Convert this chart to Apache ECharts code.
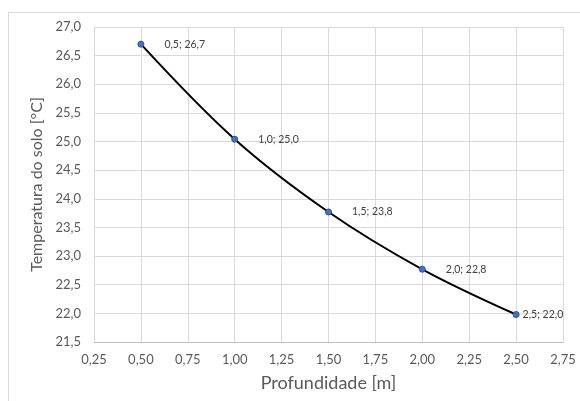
<!DOCTYPE html>
<html><head><meta charset="utf-8">
<script src="https://cdn.jsdelivr.net/npm/echarts@6/dist/echarts.min.js"></script>
<style>html,body{margin:0;padding:0;background:#fff}#c{width:580px;height:401px}</style>
</head><body><div id="c"></div>
<script>
const depths = [0.5, 1.0, 1.5, 2.0, 2.5];
const temps = [26.7, 25.04, 23.77, 22.77, 21.98];
const xTitle = 'Profundidade [m]';
const yTitle = 'Temperatura do solo [°C]';
const fmt = (v, d) => v.toFixed(d).replace('.', ',');
const font = 'Lato';
const chart = echarts.init(document.getElementById('c'), null, {renderer: 'canvas'});
chart.setOption({
  animation: false,
  backgroundColor: '#fff',
  graphic: [{type: 'rect', shape: {x: 8.5, y: 12.5, width: 600, height: 400}, style: {fill: 'none', stroke: '#d9d9d9', lineWidth: 1}, silent: true}],
  grid: {left: 94, right: 17, top: 27, bottom: 59},
  xAxis: {
    type: 'value', min: 0.25, max: 2.75, interval: 0.25,
    name: xTitle, nameLocation: 'middle', nameGap: 32,
    nameTextStyle: {fontFamily: font, fontSize: 18, color: '#595959'},
    axisLine: {show: true, lineStyle: {color: '#bfbfbf'}},
    axisTick: {show: false},
    axisLabel: {fontFamily: font, fontSize: 13, color: '#595959', margin: 11, formatter: v => fmt(v, 2)},
    splitLine: {show: true, lineStyle: {color: '#d9d9d9'}}
  },
  yAxis: {
    type: 'value', min: 21.5, max: 27.0, interval: 0.5,
    name: yTitle, nameLocation: 'middle', nameGap: 46,
    nameTextStyle: {fontFamily: font, fontSize: 16, color: '#595959'},
    axisLine: {show: false},
    axisTick: {show: false},
    axisLabel: {fontFamily: font, fontSize: 13, color: '#595959', margin: 13, formatter: v => fmt(v, 1)},
    splitLine: {show: true, lineStyle: {color: '#d9d9d9'}}
  },
  series: [{
    type: 'line',
    data: depths.map((d, i) => ({
      value: [d, temps[i]],
      label: {distance: i === depths.length - 1 ? 3 : 20}
    })),
    smooth: 0.35,
    symbol: 'circle', symbolSize: 6,
    lineStyle: {color: '#000', width: 2},
    itemStyle: {color: '#4472c4', borderColor: '#2f528f', borderWidth: 1},
    label: {
      show: true, position: 'right', distance: 20,
      fontFamily: font, fontSize: 10.5, color: '#404040',
      formatter: p => fmt(p.value[0], 1) + '; ' + fmt(p.value[1], 1)
    }
  }]
});
</script></body></html>
